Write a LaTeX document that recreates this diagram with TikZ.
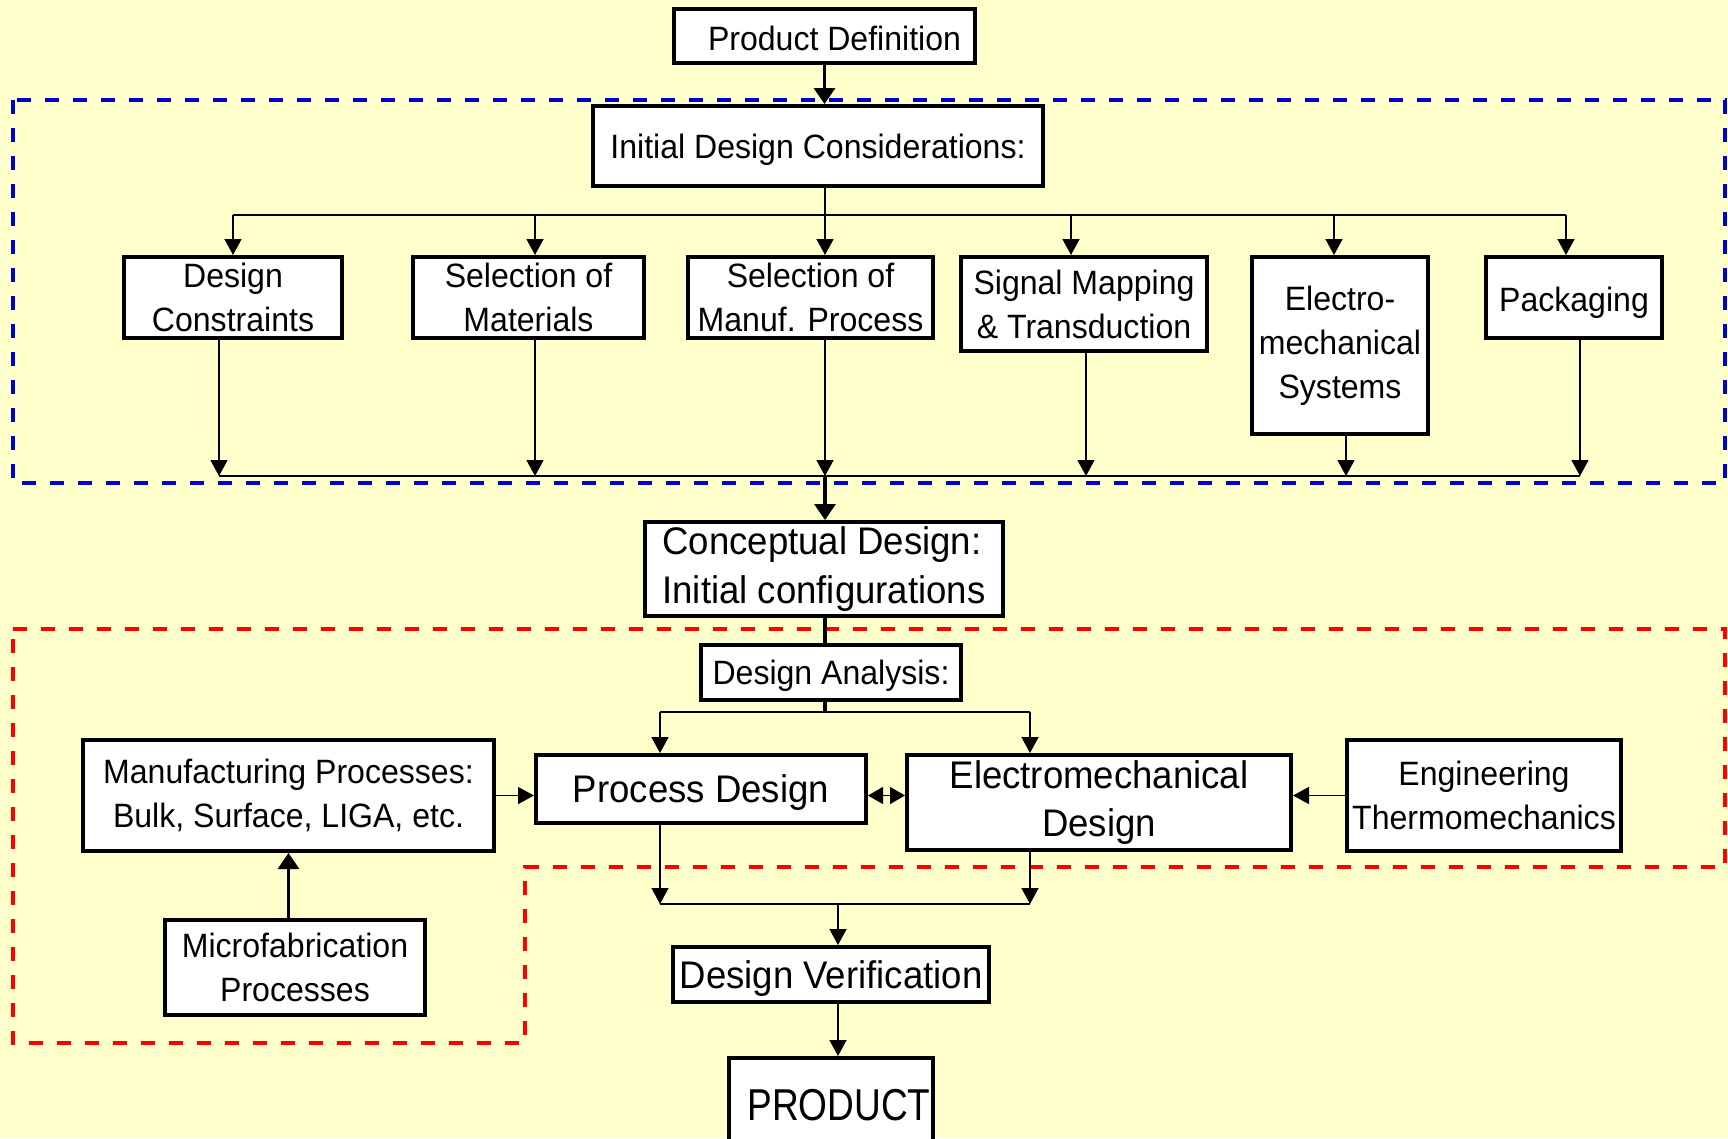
\documentclass[tikz,border=0pt]{standalone}
\usepackage{fontspec}
\setmainfont{Liberation Sans}[FakeStretch=0.95]
\newfontfamily\prodfont{Liberation Sans}[FakeStretch=0.83]
\usepackage{tikz}
\usetikzlibrary{positioning,arrows.meta,calc}
\definecolor{paper}{RGB}{255,255,204}
\definecolor{regionblue}{RGB}{0,0,210}
\definecolor{regionred}{RGB}{255,0,0}
\newcommand{\txtsmall}{\fontsize{19.2}{25}\selectfont}
\newcommand{\txtlarge}{\fontsize{21.9}{27.5}\selectfont}
\tikzset{
  box/.style={draw=black, line width=0.85mm, fill=white, inner sep=0pt, align=center, font=\txtsmall},
  bigbox/.style={box, font=\txtlarge},
  oneline/.style={text depth=0pt},
  link/.style={line width=0.3mm, -{Triangle[length=3.2mm,width=3.4mm]}},
  linkboth/.style={line width=0.3mm, {Triangle[length=3mm,width=3.4mm]}-{Triangle[length=3mm,width=3.4mm]}},
  heavylink/.style={line width=0.65mm, -{Triangle[length=3.2mm,width=4.2mm]}},
  heavy/.style={line width=0.65mm},
  bus/.style={line width=0.55mm},
  region/.style={line width=0.8mm, dash pattern=on 2.8mm off 2.8mm}
}
\begin{document}
\begin{tikzpicture}[x=0.2mm, y=-0.2mm]
    \useasboundingbox (0,0) rectangle (1728,1138);
    \fill[paper] (0,0) rectangle (1728,1138);
    \clip (0,0) rectangle (1728,1138);

    \draw[region, regionblue] (13,100) rectangle (1725,483);
    \draw[region, regionred] (13,629) -- (1725,629) -- (1725,867) -- (525,867) -- (525,1043) -- (13,1043) -- cycle;

    \node[box, oneline, minimum width=60.15mm, minimum height=10.75mm] (pd) at (824.5,36) {\hspace*{4mm}\raisebox{-0.8mm}{Product Definition}};
    \node[box, oneline, minimum width=89.95mm, minimum height=15.95mm] (idc) at (818,146) {Initial Design Considerations:};

    \node[box, minimum width=43.55mm, minimum height=16.15mm] (dc) at (233,297.5) {Design\\Constraints};
    \node[box, minimum width=46.15mm, minimum height=16.15mm] (sm) at (528.5,297.5) {Selection of\\Materials};
    \node[box, minimum width=48.95mm, minimum height=16.15mm] (smp) at (810.5,297.5) {Selection of\\Manuf. Process};
    \node[box, minimum width=49.15mm, minimum height=18.75mm] (smt) at (1084,304) {Signal Mapping\\\& Transduction};
    \node[box, minimum width=35.15mm, minimum height=35.35mm] (ems) at (1340,345.5) {Electro-\\mechanical\\Systems};
    \node[box, oneline, minimum width=35.15mm, minimum height=16.15mm] (pkg) at (1574,297.5) {\raisebox{-0.8mm}{Packaging}};

    \node[bigbox, align=left, minimum width=71.55mm, minimum height=18.75mm] (cd) at (824,569) {Conceptual Design:\\Initial configurations};
    \node[box, oneline, minimum width=51.95mm, minimum height=10.95mm] (da) at (831,672.5) {Design Analysis:};

    \node[bigbox, oneline, minimum width=65.95mm, minimum height=13.55mm] (pdsg) at (701,789) {Process Design};
    \node[bigbox, minimum width=76.75mm, minimum height=18.95mm] (emd) at (1099,802.5) {Electromechanical\\Design};
    \node[box, minimum width=82.15mm, minimum height=22.15mm] (mp) at (288.5,795.5) {Manufacturing Processes:\\Bulk, Surface, LIGA, etc.};
    \node[box, minimum width=54.75mm, minimum height=22.15mm] (et) at (1484,795.5) {Engineering\\Thermomechanics};
    \node[box, minimum width=51.95mm, minimum height=18.95mm] (mf) at (295,967.5) {Microfabrication\\Processes};

    \node[bigbox, oneline, minimum width=63.15mm, minimum height=10.95mm] (dv) at (831,974.5) {Design Verification};
    \node[box, font=\prodfont\fontsize{25.4}{30}\selectfont, minimum width=40.75mm, minimum height=18.75mm] (prod) at (831,1105) {\hspace*{3.2mm}PRODUCT};

    \coordinate (tb) at (825,215);
    \coordinate (bb) at (825,476);

    \draw[heavylink] (pd.south) -- (pd.south |- idc.north);
    \draw[line width=0.4mm] (idc.south -| tb) -- (tb);
    \draw[bus] (233,215) -- (1566,215);
    \draw[bus] (219,476) -- (1580,476);
    \foreach \n/\xt/\xb in {dc/233/219, sm/535/535, smp/825/825, smt/1071/1086, ems/1334/1346, pkg/1566/1580} {
      \draw[link] (\xt,215) -- (\xt,0 |- \n.north);
      \draw[link] (\xb,0 |- \n.south) -- (\xb,476);
    }
    \draw[heavylink] (bb) -- (bb |- cd.north);

    \draw[heavy] (bb |- cd.south) -- (bb |- da.north);
    \draw[heavy] (bb |- da.south) -- (825,712);
    \draw[bus] (660,712) -- (1030,712);
    \draw[link] (660,712) -- (660,0 |- pdsg.north);
    \draw[link] (1030,712) -- (1030,0 |- emd.north);

    \draw[link] (mp.east) -- (mp.east -| pdsg.west);
    \draw[linkboth] (pdsg.east |- mp.east) -- (emd.west |- mp.east);
    \draw[link] (et.west) -- (et.west -| emd.east);
    \draw[heavylink] (mf.north -| mp.south) -- (mp.south);

    \draw[link] (660,0 |- pdsg.south) -- (660,904);
    \draw[link] (1030,0 |- emd.south) -- (1030,904);
    \draw[bus] (660,904) -- (1030,904);
    \draw[link] (838,904) -- (838,0 |- dv.north);
    \draw[link] (838,0 |- dv.south) -- (838,0 |- prod.north);
\end{tikzpicture}
\end{document}
